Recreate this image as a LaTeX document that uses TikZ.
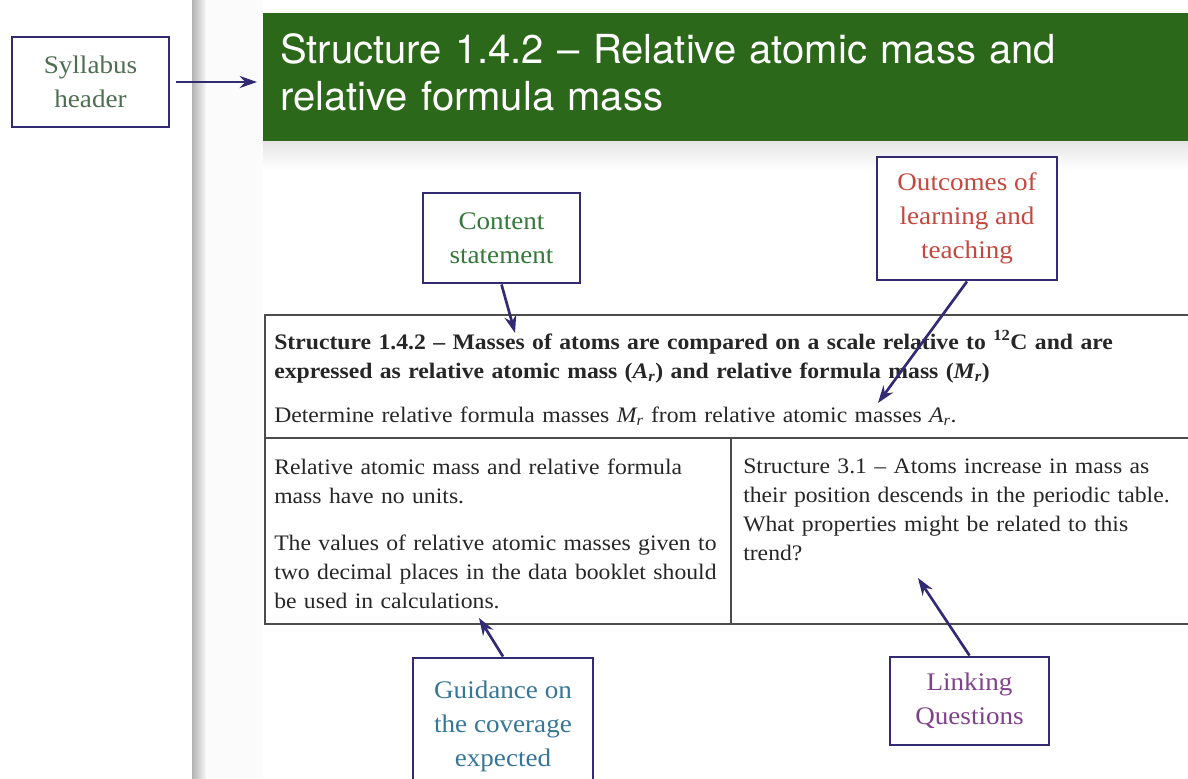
\documentclass[tikz,border=0pt]{standalone}
\usepackage{fontspec}
\setmainfont[FakeStretch=1.07]{Liberation Serif}
\newfontfamily\bannerfont{TeX Gyre Heros}
\usetikzlibrary{arrows.meta}
\definecolor{framenavy}{RGB}{50,42,115}
\definecolor{bannergreen}{RGB}{44,104,26}
\definecolor{syltext}{RGB}{78,110,82}
\definecolor{contenttext}{RGB}{52,120,58}
\definecolor{outcometext}{RGB}{196,72,62}
\definecolor{guidetext}{RGB}{56,118,150}
\definecolor{linktext}{RGB}{128,66,140}
\tikzset{callout/.style={draw=framenavy,line width=2.2pt,fill=white,
                         align=center,inner sep=0pt,
                         font=\fontsize{19}{25.5}\selectfont}}
\tikzset{pointer/.style={-{Stealth[length=13pt,width=9pt]},draw=framenavy,
                         line width=2pt}}
\def\cellfont{\fontsize{16.6}{21.75}\selectfont}

\begin{document}
\begin{tikzpicture}[x=0.75pt,y=-0.75pt]
    \tikzstyle{rule}=[draw=black!70,line width=1.2pt]
    \tikzstyle{celltext}=[anchor=base west,align=left,inner sep=0pt,
                          text width=460pt,text=black!85,font=\cellfont]
    \useasboundingbox (0,0) rectangle (1188,778);
    % page edge and banner shadow
    \shade[left color=black!30,right color=black!3] (192,0) rectangle (206,778);
    \fill[black!1.5] (206,0) rectangle (263,778);
    \shade[top color=black!10,bottom color=white] (263,141) rectangle (1188,170);

    \node[fill=bannergreen,anchor=north west,minimum width=702.75pt,
          minimum height=96pt,inner sep=0pt] (banner) at (263,13) {};
    \node[anchor=base west,align=left,inner sep=0pt,text width=650pt,text=white,
          font=\bannerfont\fontsize{30}{35.25}\selectfont] (title) at (280,63)
          {Structure 1.4.2 – Relative atomic mass and\\relative formula mass};

    % table
    \draw[rule] (1200,315) -| (265,624) -- (1200,624);
    \draw[rule] (265,438) -- (1200,438);
    \draw[rule] (731,438) -- (731,624);

    \node[celltext,text width=700pt,font=\cellfont\bfseries] (stmt) at (274,349)
          {Structure 1.4.2 – Masses of atoms are compared on a scale relative to \textsuperscript{12}C and are\\
           expressed as relative atomic mass (\textit{A\textsubscript{r}}) and relative formula mass (\textit{M\textsubscript{r}})};
    \node[celltext,text width=700pt] (determine) at (274,422)
          {Determine relative formula masses \textit{M\textsubscript{r}} from relative atomic masses \textit{A\textsubscript{r}}.};
    \node[celltext] (guide) at (274,474)
          {Relative atomic mass and relative formula\\mass have no units.\\[13.5pt]
           The values of relative atomic masses given to\\two decimal places in the data booklet should\\be used in calculations.};
    \node[celltext] (link) at (743,473)
          {Structure 3.1 – Atoms increase in mass as\\their position descends in the periodic table.\\
           What properties might be related to this\\trend?};

    % callouts
    \node[callout,minimum width=117.75pt,minimum height=67.5pt,text=syltext]
          (syllabus) at (90.5,82) {Syllabus\\header};
    \node[callout,minimum width=117.75pt,minimum height=67.5pt,text=contenttext]
          (content) at (501.5,238) {Content\\statement};
    \node[callout,minimum width=135pt,minimum height=92.25pt,text=outcometext]
          (outcomes) at (967,218.5) {Outcomes of\\learning and\\teaching};
    \node[callout,minimum width=135pt,minimum height=102pt,text=guidetext]
          (guidance) at (503,726) {Guidance on\\the coverage\\expected};
    \node[callout,minimum width=119.25pt,minimum height=66pt,text=linktext]
          (linking) at (969.5,701) {Linking\\Questions};

    \coordinate (content tip) at (515,333);
    \coordinate (outcome tip) at (878,403);
    \coordinate (guide tip) at (479,618);
    \coordinate (link tip) at (918,578);

    \draw[pointer,shorten <=4.5pt,shorten >=4.5pt] (syllabus.east) -- (syllabus.east -| banner.west);
    \draw[pointer] (content.south) -- (content tip);
    \draw[pointer] (outcomes.south) -- (outcome tip);
    \draw[pointer] (guidance.north) -- (guide tip);
    \draw[pointer] (linking.north) -- (link tip);
\end{tikzpicture}
\end{document}
